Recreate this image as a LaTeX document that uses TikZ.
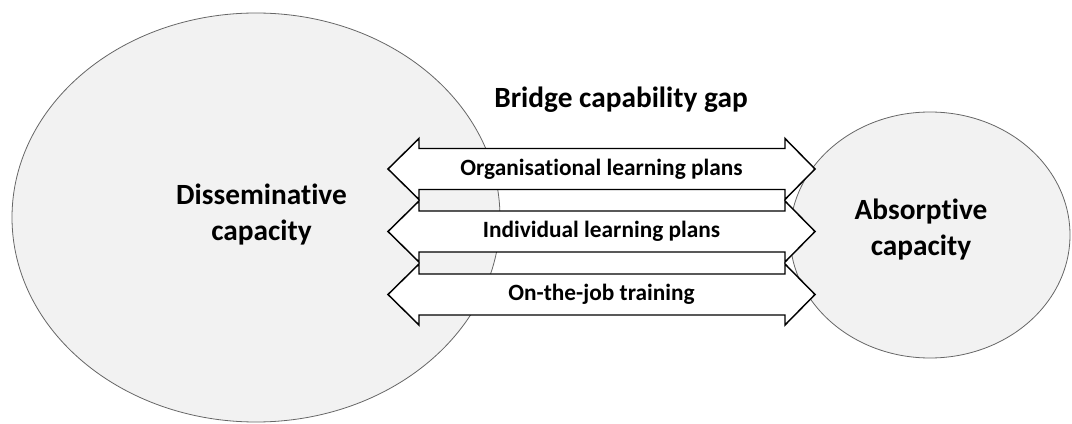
\documentclass[tikz,border=0pt]{standalone}
\usepackage{fontspec}
\setmainfont{Carlito}[RawFeature={-liga}]
\usetikzlibrary{calc}
\definecolor{blobfill}{HTML}{F2F2F2}
\definecolor{blobline}{HTML}{666666}
\tikzset{
  blob/.style={fill=blobfill, draw=blobline, line width=0.6pt},
  arrowbox/.style={fill=white, draw=black, line width=1.1pt, line join=miter},
  biglabel/.style={font=\fontsize{22}{27}\selectfont\bfseries, align=center, inner sep=0pt},
  arrowlabel/.style={font=\fontsize{17.5}{21}\selectfont\bfseries, inner sep=0pt},
}
\newcommand{\bridgearrow}[1]{%
  \draw[arrowbox] ($(#1)+(-213.5,0)$) -- ($(#1)+(-182.5,-30.5)$) -- ($(#1)+(-182.5,-20.5)$)
    -- ($(#1)+(183.5,-20.5)$) -- ($(#1)+(183.5,-30.5)$) -- ($(#1)+(213.5,0)$)
    -- ($(#1)+(183.5,30.5)$) -- ($(#1)+(183.5,20.5)$) -- ($(#1)+(-182.5,20.5)$)
    -- ($(#1)+(-182.5,30.5)$) -- cycle;}
\begin{document}
\begin{tikzpicture}[x=0.75pt,y=-0.75pt]
\useasboundingbox (0,0) rectangle (1072,424);
% circles
\draw[blob] (256,217.5) ellipse [x radius=244, y radius=204.5];
\draw[blob] (930,235) ellipse [x radius=140, y radius=123];
\node[biglabel] (diss) at (261.5,215) {Disseminative\\capacity};
\node[biglabel] (abs) at (921,230) {Absorptive\\capacity};
% title
\node[biglabel] (title) at (621,100) {Bridge capability gap};
% arrows
\coordinate (c1) at (601.5,169);
\coordinate (c2) at (601.5,231.5);
\coordinate (c3) at (601.5,294.5);
\bridgearrow{c1}
\bridgearrow{c2}
\bridgearrow{c3}
\node[arrowlabel] (a1) at (c1) {Organisational learning plans};
\node[arrowlabel] (a2) at (c2) {Individual learning plans};
\node[arrowlabel] (a3) at (c3) {On-the-job training};
\end{tikzpicture}
\end{document}
